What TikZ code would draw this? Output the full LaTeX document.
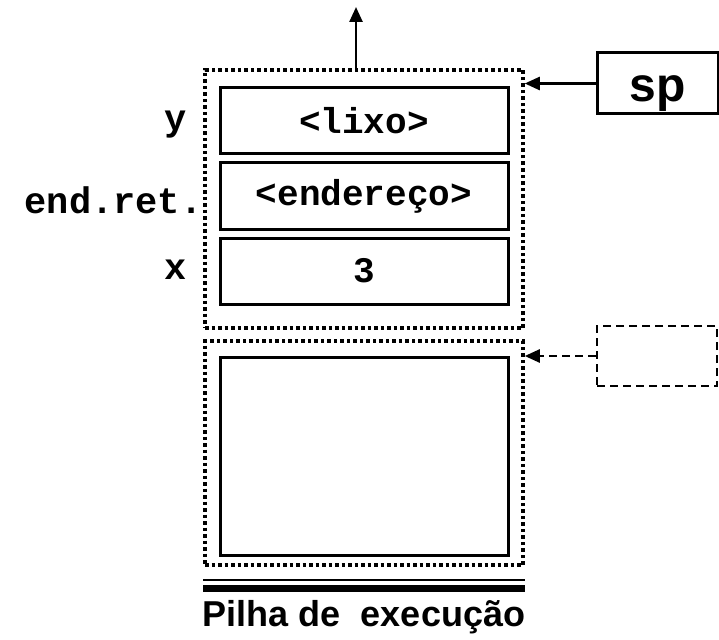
\documentclass[tikz,border=0pt]{standalone}
\usepackage{fontspec}
\setmainfont{Liberation Sans}
\setmonofont{Liberation Mono}
\usetikzlibrary{positioning,arrows.meta}

\tikzset{
  celula/.style={draw,line width=3pt,minimum width=288pt,minimum height=66pt,inner sep=0pt,
    font=\ttfamily\bfseries\fontsize{36}{40}\selectfont},
  quadro/.style={draw,line width=3.5pt,dash pattern=on 3.5pt off 3pt,minimum width=318pt,inner sep=0pt},
  nomevar/.style={inner sep=0pt,font=\ttfamily\bfseries\fontsize{37}{40}\selectfont},
  seta/.style={-{Triangle[length=15pt,width=13pt]},line width=2.5pt},
}

\begin{document}
\begin{tikzpicture}[x=1pt,y=-1pt]
	\useasboundingbox (0,0) rectangle (719,639);
	%% registros de ativacao
	\node[quadro,minimum height=258pt] (f1) at (364,199) {};
	\node[quadro,minimum height=224pt] (f2) at (364,453) {};
	%% celulas da pilha
	\node[celula] (c1) at (364,120.5) {<lixo>};
	\node[celula] (c2) at (364,196) {<endereço>};
	\node[celula] (c3) at (364,271) {3};
	\node[celula,minimum height=198pt] (c4) at (364,456) {};
	% nomes das variaveis
	\node[nomevar,left=32pt of c1,yshift=-4pt] (ny) {y};
	\node[nomevar,left=16pt of c2,yshift=-4pt] (nret) {end.ret.};
	\node[nomevar,left=32pt of c3,yshift=1pt] (nx) {x};
	%% ponteiros
	\node[draw,line width=3pt,minimum width=121pt,minimum height=61pt,text height=37pt,text depth=0pt,
		font=\bfseries\fontsize{48}{50}\selectfont] (sp) at (657.5,83.5) {sp};
	\node[draw,line width=2.5pt,dash pattern=on 8pt off 5pt,minimum width=120pt,minimum height=60pt] (livre) at (657,356) {};
	\draw[seta] (sp.west) -- (sp.west -| f1.east);
	\draw[seta,dash pattern=on 8pt off 5pt] (livre.west) -- (livre.west -| f2.east);
	% crescimento da pilha
	\coordinate (topo) at (356,7);
	\draw[seta] ([xshift=-8pt]f1.north) -- (topo);
	%% base da pilha
	\draw[line width=1.5pt] ([yshift=-13pt]f2.south west) -- ([yshift=-13pt]f2.south east);
	\draw[line width=7pt] ([yshift=-21.5pt]f2.south west) -- ([yshift=-21.5pt]f2.south east);
	\node[font=\bfseries\fontsize{36}{40}\selectfont] (titulo) at (364,617) {Pilha de\ \ execução};
\end{tikzpicture}
\end{document}
